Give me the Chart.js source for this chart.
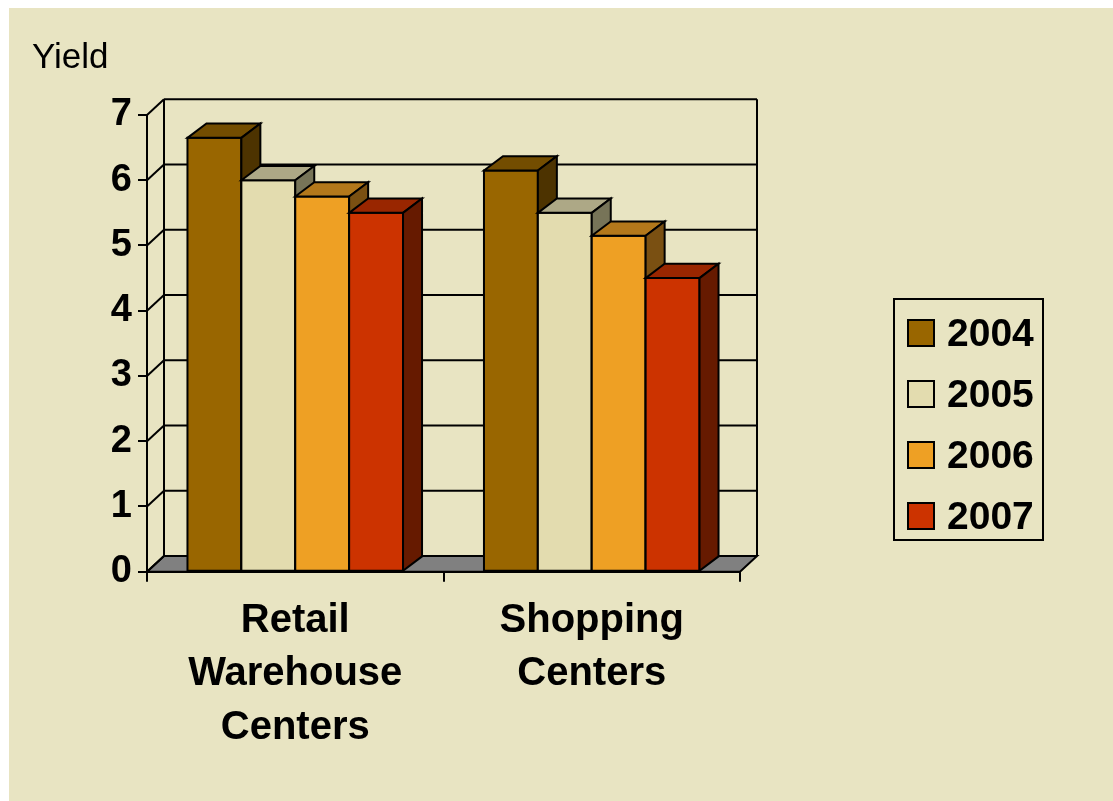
<!DOCTYPE html>
<html>
<head>
<meta charset="utf-8">
<script src="https://cdn.jsdelivr.net/npm/chart.js@4.4.1/dist/chart.umd.min.js"></script>
<style>
  html, body { margin: 0; padding: 0; background: #fff; }
  #bg { position: absolute; left: 9px; top: 8px; width: 1104px; height: 793px; background: #E8E4C2; }
  #wrap { position: absolute; left: 0; top: 0; width: 1113px; height: 801px; }
  #yield { position: absolute; left: 32px; top: 36px; font: 35px "Liberation Sans", Arial, sans-serif; color: #000; }
  #legend { position: absolute; left: 893px; top: 298px; width: 151px; height: 243px; border: 2px solid #000; box-sizing: border-box; }
  #legend .row { position: absolute; left: 12px; height: 40px; display: flex; align-items: center; }
  #legend .sw { width: 24px; height: 24px; border: 2px solid #000; margin-right: 12px; }
  #legend .lb { font: bold 39px "Liberation Sans", Arial, sans-serif; color: #000; }
</style>
</head>
<body>
<div id="bg"></div>
<div id="wrap"><canvas id="myChart" width="1113" height="801"></canvas></div>
<div id="yield">Yield</div>
<div id="legend"></div>
<script>
// data
const categories = [["Retail", "Warehouse", "Centers"], ["Shopping", "Centers"]];
const years = ["2004", "2005", "2006", "2007"];
const yield2004 = [6.65, 6.15];
const yield2005 = [6.0, 5.5];
const yield2006 = [5.75, 5.15];
const yield2007 = [5.5, 4.5];
const yTickMax = 7;

// front / top / side colours for each year
const faces = [
  { front: "#996600", top: "#734D00", side: "#4D3300" },
  { front: "#E3DCAF", top: "#ADA886", side: "#777458" },
  { front: "#EEA024", top: "#B3781B", side: "#7A5012" },
  { front: "#CC3300", top: "#992600", side: "#661A00" }
];
const wallDepth = [17, -15.7];
const barDepth = [19, -14.3];

const series = [yield2004, yield2005, yield2006, yield2007];

let legend = document.getElementById("legend");
years.forEach((yr, i) => {
  legend.innerHTML += '<div class="row" style="top:' + (13 + i * 61) + 'px"><div class="sw" style="background:' +
    faces[i].front + '"></div><span class="lb">' + yr + '</span></div>';
});

function poly(ctx, pts, fill) {
  ctx.beginPath();
  ctx.moveTo(pts[0][0], pts[0][1]);
  for (let k = 1; k < pts.length; k++) ctx.lineTo(pts[k][0], pts[k][1]);
  ctx.closePath();
  if (fill) { ctx.fillStyle = fill; ctx.fill(); }
  ctx.stroke();
}
function line(ctx, x1, y1, x2, y2) {
  ctx.beginPath(); ctx.moveTo(x1, y1); ctx.lineTo(x2, y2); ctx.stroke();
}

const threeD = {
  id: "threeD",
  beforeDatasetsDraw(chart) {
    const ctx = chart.ctx, a = chart.chartArea, y = chart.scales.y;
    const [wx, wy] = wallDepth, [bx, by] = barDepth;
    ctx.save();
    ctx.lineWidth = 2;
    ctx.strokeStyle = "#000";
    ctx.lineJoin = "miter";
    const y0 = y.getPixelForValue(0);
    const yTop = y.getPixelForValue(y.max);
    // floor
    poly(ctx, [[a.left, y0], [a.right, y0], [a.right + wx, y0 + wy], [a.left + wx, y0 + wy]], "#808080");
    // side wall and back wall grid
    y.ticks.forEach((t) => {
      const py = y.getPixelForValue(t.value);
      line(ctx, a.left, py, a.left + wx, py + wy);
      if (t.value > 0) line(ctx, a.left + wx, py + wy, a.right + wx, py + wy);
    });
    line(ctx, a.left + wx, yTop + wy, a.left + wx, y0 + wy);
    line(ctx, a.right + wx, yTop + wy, a.right + wx, y0 + wy);
    // bars, left to right
    let bars = [];
    chart.data.datasets.forEach((ds, i) => {
      chart.getDatasetMeta(i).data.forEach((el) => bars.push({ el: el, i: i }));
    });
    bars.sort((p, q) => p.el.x - q.el.x);
    bars.forEach(({ el, i }) => {
      const p = el.getProps(["x", "y", "base", "width"], true);
      const l = p.x - p.width / 2, r = p.x + p.width / 2, top = p.y, base = p.base;
      const f = faces[i];
      poly(ctx, [[l, top], [r, top], [r, base], [l, base]], f.front);
      poly(ctx, [[l, top], [l + bx, top + by], [r + bx, top + by], [r, top]], f.top);
      poly(ctx, [[r, top], [r + bx, top + by], [r + bx, base + by], [r, base]], f.side);
    });
    ctx.restore();
    return false;
  }
};

const fontFamily = '"Liberation Sans", Arial, sans-serif';

new Chart(document.getElementById("myChart").getContext("2d"), {
  type: "bar",
  data: {
    labels: categories,
    datasets: series.map((vals, i) => ({
      label: years[i],
      data: vals,
      backgroundColor: faces[i].front,
      borderColor: "#000",
      borderWidth: 2
    }))
  },
  options: {
    responsive: false,
    animation: false,
    events: [],
    layout: { padding: { left: 0, top: 115, right: 373, bottom: 0 } },
    plugins: { legend: { display: false }, tooltip: { enabled: false } },
    datasets: { bar: { barPercentage: 1, categoryPercentage: 0.727 } },
    scales: {
      x: {
        grid: { display: true, drawOnChartArea: false, tickLength: 10, color: "#000", lineWidth: 2 },
        border: { display: true, color: "#000", width: 2 },
        ticks: { color: "#000", font: { family: fontFamily, weight: "bold", size: 40, lineHeight: 1.34 }, maxRotation: 0, autoSkip: false, padding: 12 },
        afterFit(scale) { scale.height = 229.3; }
      },
      y: {
        min: 0,
        max: yTickMax,
        grid: { display: true, drawOnChartArea: false, tickLength: 9, color: "#000", lineWidth: 2 },
        border: { display: true, color: "#000", width: 2 },
        ticks: { stepSize: 1, color: "#000", font: { family: fontFamily, weight: "bold", size: 38 }, padding: 6 },
        afterFit(scale) { scale.width = 147; }
      }
    }
  },
  plugins: [threeD]
});
</script>
</body>
</html>
